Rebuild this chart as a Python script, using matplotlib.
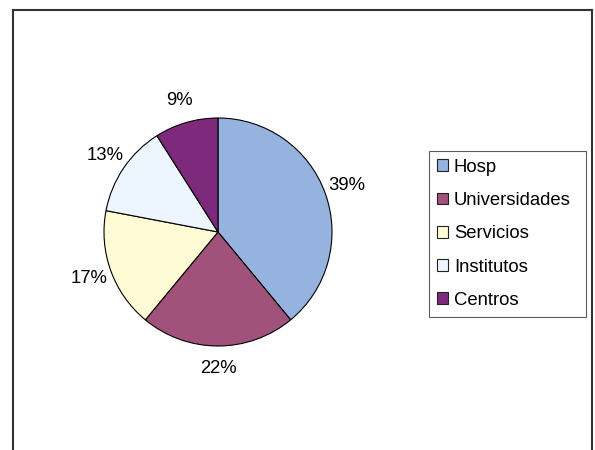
import matplotlib.pyplot as plt
from matplotlib.lines import Line2D

plt.rcParams['font.family'] = ['Liberation Sans', 'DejaVu Sans']

categories = ['Hosp', 'Universidades', 'Servicios', 'Institutos', 'Centros']
values = [39, 22, 17, 13, 9]
colors = ['#95B3DE', '#A0527A', '#FFFBD4', '#EDF5FF', '#7E2A7C']

W, H = 595, 450
fig = plt.figure(figsize=(W / 100, H / 100), dpi=100)

# chart area border (bottom edge falls outside the picture)
x0, x1, ytop = 13 / W, 592 / W, 1 - 10 / H
for xs, ys in [([x0, x0], [-0.1, ytop]), ([x0, x1], [ytop, ytop]), ([x1, x1], [ytop, -0.1])]:
    fig.add_artist(Line2D(xs, ys, color='#333333', lw=1.5, transform=fig.transFigure))

# pie
cx, cy, r = 218, 232, 114
ax = fig.add_axes([(cx - r) / W, (H - cy - r) / H, 2 * r / W, 2 * r / H])
wedges, texts = ax.pie(values, labels=[f'{v}%' for v in values], colors=colors,
                       startangle=90, counterclock=False, labeldistance=1.2,
                       wedgeprops=dict(edgecolor='black', linewidth=0.8),
                       textprops=dict(fontsize=13.3))
for t in texts:
    t.set_ha('center')
    t.set_va('center')
ax.set_xlim(-1, 1)
ax.set_ylim(-1, 1)
ax.set_aspect('auto')

leg = fig.legend(wedges, categories, loc='upper left', mode='expand',
                 bbox_to_anchor=(429 / W, 1 - 314 / H, 157 / W, 163 / H),
                 bbox_transform=fig.transFigure,
                 borderaxespad=0, fontsize=13.3, frameon=True, fancybox=False,
                 handlelength=0.6, handleheight=0.6, handletextpad=0.32,
                 labelspacing=0.88, borderpad=0.42)
leg.get_frame().set_edgecolor('#333333')
leg.get_frame().set_linewidth(0.8)
for h in leg.legend_handles:
    h.set_edgecolor('#222222')
    h.set_linewidth(0.8)

fig.savefig('out.png', dpi=100)
